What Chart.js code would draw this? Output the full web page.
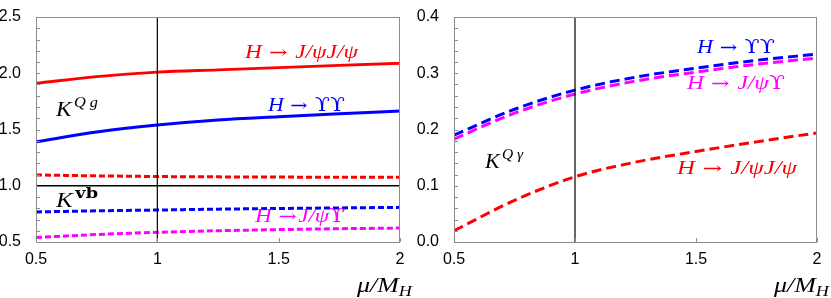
<!DOCTYPE html>
<html><head><meta charset="utf-8">
<script src="https://cdn.jsdelivr.net/npm/chart.js@4"></script>
<style>
html,body{margin:0;padding:0;background:#fff;width:831px;height:298px;overflow:hidden}
#a{position:absolute;left:0;top:0}
#b{position:absolute;left:415px;top:0}
</style></head><body>
<canvas id="a" width="415" height="298"></canvas>
<canvas id="b" width="416" height="298"></canvas>
<script>
// ---- data ----
const mu = [0.5, 0.75, 1, 1.25, 1.5, 1.75, 2];
// left panel (K^{Qg} solid, K^{vb} dotted)
const qgJpsiJpsi = [1.91, 1.97, 2.01, 2.03, 2.05, 2.07, 2.09];
const qgUpsUps   = [1.39, 1.478, 1.54, 1.585, 1.614, 1.64, 1.664];
const vbJpsiJpsi = [1.096, 1.088, 1.082, 1.079, 1.077, 1.076, 1.075];
const vbUpsUps   = [0.767, 0.777, 0.784, 0.792, 0.798, 0.803, 0.808];
const vbJpsiUps  = [0.54, 0.566, 0.586, 0.600, 0.610, 0.618, 0.624];
// right panel (K^{Q gamma})
const qgamUpsUps   = [0.19, 0.236, 0.27, 0.293, 0.309, 0.323, 0.334];
const qgamJpsiUps  = [0.183, 0.229, 0.263, 0.286, 0.302, 0.316, 0.327];
const qgamJpsiJpsi = [0.02, 0.074, 0.116, 0.142, 0.161, 0.178, 0.194];
const leftYTicks = [0.5, 1.0, 1.5, 2.0, 2.5];
const rightYTicks = [0.0, 0.1, 0.2, 0.3, 0.4];
const xTicks = [0.5, 1, 1.5, 2];

const RED='#ff0000', BLUE='#0000ff', MAG='#ff00ff';
const pts = arr => arr.map((v,i)=>({x:mu[i], y:v}));

function ds(arr,color,dash,w){
  return {data:pts(arr),borderColor:color,borderWidth:w||3,borderDash:dash||[],pointRadius:0,
    cubicInterpolationMode:'monotone',fill:false,borderCapStyle:'butt'};
}
function refV(ymin,ymax){return {data:[{x:1,y:ymin},{x:1,y:ymax}],borderColor:'#000',borderWidth:1.2,pointRadius:0};}

// draw rich text segments, optionally fitted to a target width
function rich(ctx,x,y,segs,color,target){
  ctx.save();ctx.fillStyle=color;ctx.textBaseline='alphabetic';ctx.textAlign='left';
  let w=0;
  for(const s of segs){ctx.font=s.f;w+=ctx.measureText(s.t).width+(s.sp||0);}
  const k=target?target/w:1;
  ctx.translate(x,y);ctx.scale(k,1);
  let cx=0;
  for(const s of segs){
    ctx.font=s.f;
    ctx.fillText(s.t,cx,(s.dy||0));
    cx+=ctx.measureText(s.t).width+(s.sp||0);
  }
  ctx.restore();
}
const IT='italic 18px "Liberation Serif"', UPs='18px "DejaVu Serif"';
const arrow={t:' \u2192',f:'17px "DejaVu Serif"',sp:6};
const UPS='\u03d2';

function framePlugin(minorStep,labelsFn){
  return {id:'frame',afterDraw(chart){
    const {ctx,chartArea:a,scales}=chart;const y=scales.y,x=scales.x;
    ctx.save();ctx.strokeStyle='#8c8c8c';ctx.lineWidth=1;
    ctx.strokeRect(a.left+0.5,a.top+0.5,a.right-a.left-1,a.bottom-a.top);
    const n=Math.round((y.max-y.min)/minorStep);
    ctx.beginPath();
    for(let i=1;i<n;i++){const py=Math.round(y.getPixelForValue(y.min+i*minorStep))+0.5;
      ctx.moveTo(a.left,py);ctx.lineTo(a.left+4,py);}
    for(const t of xTicks){const px=Math.round(x.getPixelForValue(t))+0.5;ctx.moveTo(px,a.bottom);ctx.lineTo(px,a.bottom-4);}
    ctx.stroke();
    ctx.restore();
    labelsFn(ctx,x,y,a);
    rich(ctx,a.right-43,a.bottom+50,[{t:'\u03bc/M',f:'italic 20px "Liberation Serif"'},{t:'H',f:'italic 14px "Liberation Serif"',dy:4}],'#000',55);
  }};
}

function opts(ymin,ymax,yticks,yw,padR){
  return {responsive:false,animation:false,
    layout:{padding:{top:17,right:padR,left:0,bottom:0}},
    plugins:{legend:{display:false},tooltip:{enabled:false}},
    scales:{
      x:{type:'linear',min:0.5,max:2,
        afterBuildTicks:s=>{s.ticks=xTicks.map(v=>({value:v}));},
        afterFit:s=>{s.height=56;},
        grid:{display:false},border:{display:false},
        ticks:{color:'#000',font:{family:'"Liberation Sans"',size:16},padding:0,maxRotation:0,
          callback:v=>String(v)}},
      y:{type:'linear',min:ymin,max:ymax,
        afterBuildTicks:s=>{s.ticks=yticks.map(v=>({value:v}));},
        afterFit:s=>{s.width=yw;},
        grid:{display:false},border:{display:false},
        ticks:{color:'#000',font:{family:'"Liberation Sans"',size:16},padding:7,
          callback:v=>v.toFixed(1)}}
    }};
}

new Chart(document.getElementById('a'),{type:'line',
  data:{datasets:[
    refV(0.5,2.5),
    {data:[{x:0.5,y:1},{x:2,y:1}],borderColor:'#000',borderWidth:1.5,pointRadius:0},
    ds(qgJpsiJpsi,RED),
    ds(qgUpsUps,BLUE),
    ds(vbJpsiJpsi,RED,[6,3]),
    ds(vbUpsUps,BLUE,[6,3]),
    ds(vbJpsiUps,MAG,[6,3])
  ]},
  options:opts(0.5,2.5,leftYTicks,36,15),
  plugins:[framePlugin(0.1,(ctx,x,y,a)=>{
    rich(ctx,245,58,[{t:'H',f:IT},arrow,{t:'J/\u03c8J/\u03c8',f:IT}],RED,113);
    rich(ctx,268,111,[{t:'H',f:IT},arrow,{t:UPS+UPS,f:UPs}],BLUE,77);
    rich(ctx,56,116,[{t:'K',f:'italic 20px "Liberation Serif"',sp:2},{t:'Q g',f:'italic 14px "Liberation Serif"',dy:-9}],'#000',42);
    rich(ctx,56,207,[{t:'K',f:'italic 20px "Liberation Serif"',sp:2},{t:'vb',f:'bold 14px "DejaVu Serif"',dy:-9}],'#000',42);
    rich(ctx,255,222,[{t:'H',f:IT},{t:' \u2192',f:'17px "DejaVu Serif"',sp:1},{t:'J/\u03c8',f:IT},{t:UPS,f:UPs}],MAG,90);
  })]
});

new Chart(document.getElementById('b'),{type:'line',
  data:{datasets:[
    refV(0,0.4),
    ds(qgamUpsUps,BLUE,[10,5]),
    ds(qgamJpsiUps,MAG,[10,5]),
    ds(qgamJpsiJpsi,RED,[10,5])
  ]},
  options:opts(0,0.4,rightYTicks,39,14),
  plugins:[framePlugin(0.02,(ctx,x,y,a)=>{
    rich(ctx,697-415,53,[{t:'H',f:IT},arrow,{t:UPS+UPS,f:UPs}],BLUE,78);
    rich(ctx,687-415,89,[{t:'H',f:IT},arrow,{t:'J/\u03c8',f:IT},{t:UPS,f:UPs}],MAG,98);
    rich(ctx,485-415,168,[{t:'K',f:'italic 20px "Liberation Serif"',sp:2},{t:'Q \u03b3',f:'italic 14px "Liberation Serif"',dy:-9}],'#000',38);
    rich(ctx,677-415,174,[{t:'H',f:IT},arrow,{t:'J/\u03c8J/\u03c8',f:IT}],RED,120);
  })]
});
</script>
</body></html>
